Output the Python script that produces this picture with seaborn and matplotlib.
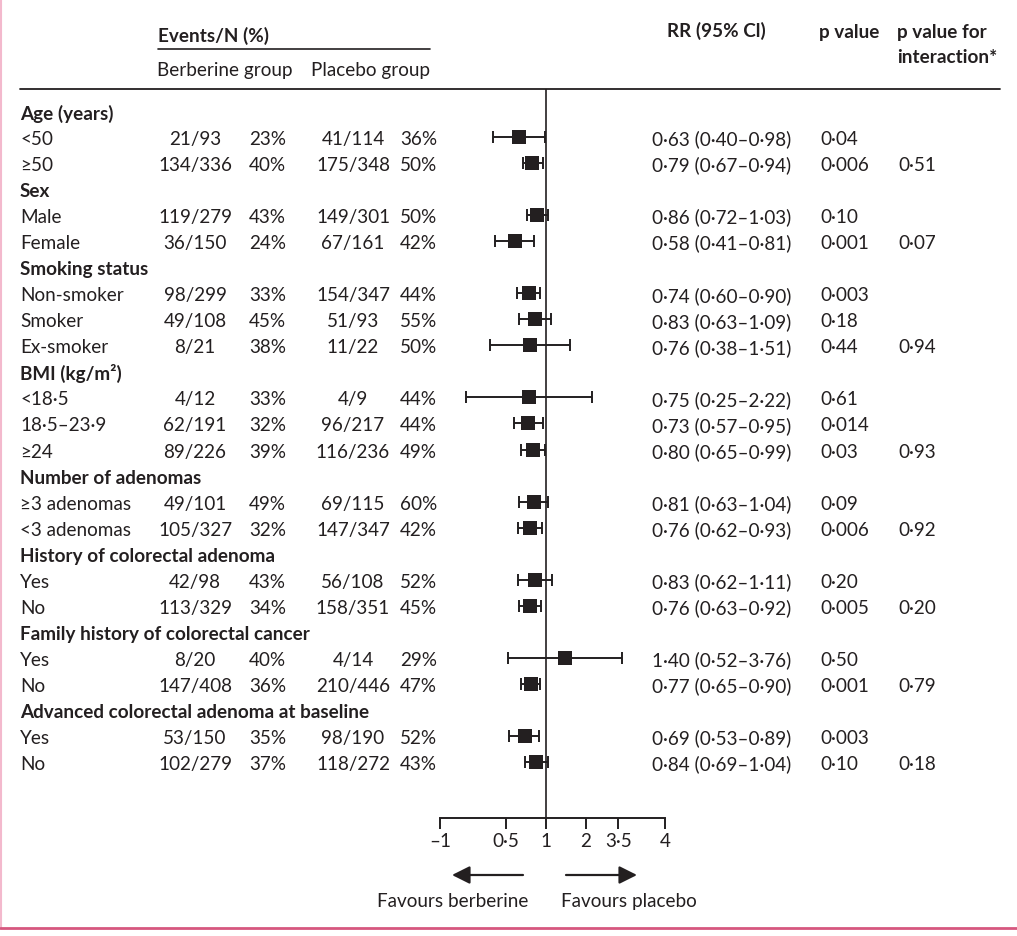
import numpy as np
import pandas as pd
import matplotlib
matplotlib.use("Agg")
import matplotlib.pyplot as plt
import matplotlib.transforms as mtransforms
from matplotlib.ticker import FixedLocator, FixedFormatter, NullLocator
import seaborn as sns

# ---------------- data ----------------
headings = ["Age (years)", "Sex", "Smoking status", "BMI (kg/m²)", "Number of adenomas",
            "History of colorectal adenoma", "Family history of colorectal cancer",
            "Advanced colorectal adenoma at baseline"]
group_sizes = [2, 2, 3, 3, 2, 2, 2, 2]
sub_labels = ["<50", "≥50", "Male", "Female", "Non-smoker", "Smoker", "Ex-smoker",
              "<18·5", "18·5–23·9", "≥24", "≥3 adenomas", "<3 adenomas",
              "Yes", "No", "Yes", "No", "Yes", "No"]
berb_events = [21, 134, 119, 36, 98, 49, 8, 4, 62, 89, 49, 105, 42, 113, 8, 147, 53, 102]
berb_n = [93, 336, 279, 150, 299, 108, 21, 12, 191, 226, 101, 327, 98, 329, 20, 408, 150, 279]
berb_pct = [23, 40, 43, 24, 33, 45, 38, 33, 32, 39, 49, 32, 43, 34, 40, 36, 35, 37]
plac_events = [41, 175, 149, 67, 154, 51, 11, 4, 96, 116, 69, 147, 56, 158, 4, 210, 98, 118]
plac_n = [114, 348, 301, 161, 347, 93, 22, 9, 217, 236, 115, 347, 108, 351, 14, 446, 190, 272]
plac_pct = [36, 50, 50, 42, 44, 55, 50, 44, 44, 49, 60, 42, 52, 45, 29, 47, 52, 43]
rr = [0.63, 0.79, 0.86, 0.58, 0.74, 0.83, 0.76, 0.75, 0.73, 0.80, 0.81, 0.76, 0.83, 0.76, 1.40, 0.77, 0.69, 0.84]
ci_low = [0.40, 0.67, 0.72, 0.41, 0.60, 0.63, 0.38, 0.25, 0.57, 0.65, 0.63, 0.62, 0.62, 0.63, 0.52, 0.65, 0.53, 0.69]
ci_high = [0.98, 0.94, 1.03, 0.81, 0.90, 1.09, 1.51, 2.22, 0.95, 0.99, 1.04, 0.93, 1.11, 0.92, 3.76, 0.90, 0.89, 1.04]
p_value = ["0.04", "0.006", "0.10", "0.001", "0.003", "0.18", "0.44", "0.61", "0.014", "0.03",
           "0.09", "0.006", "0.20", "0.005", "0.50", "0.001", "0.003", "0.10"]
p_interaction = ["", "0.51", "", "0.07", "", "", "0.94", "", "", "0.93", "", "0.92",
                 "", "0.20", "", "0.79", "", "0.18"]
tick_values = [0.159, 0.5, 1, 2, 3.5, 7.86]
tick_labels = ["–1", "0·5", "1", "2", "3·5", "4"]

# ---------------- layout ----------------
W, H = 1017, 936
INK = "#231f20"
sns.set_theme(style="white")
plt.rcParams["font.family"] = ["Lato", "DejaVu Sans"]
plt.rcParams["text.color"] = INK
FS = 13.6

def dot(s):
    return s.replace(".", "·")

# row indices
head_rows, sub_rows = [], []
r = 0
for size in group_sizes:
    head_rows.append(r)
    r += 1
    for _ in range(size):
        sub_rows.append(r)
        r += 1

df = pd.DataFrame({"row": sub_rows, "rr": rr, "lo": ci_low, "hi": ci_high})

fig = plt.figure(figsize=(W / 100, H / 100), dpi=100)
ax_bg = fig.add_axes([0, 0, 1, 1], zorder=0)
ax_bg.set_xlim(0, W)
ax_bg.set_ylim(H, 0)
ax_bg.axis("off")

top_px, bot_px = 89, 818
row0_px, row_step = 111, 26.04
ax = fig.add_axes([440 / W, 1 - bot_px / H, 225 / W, (bot_px - top_px) / H], zorder=1)
ax.patch.set_alpha(0)
ax.set_xscale("log", base=2)
ax.set_xlim(tick_values[0], tick_values[-1])

# forest marks
ax.axvline(1, color=INK, lw=1.2, zorder=1)
ax.errorbar(df["rr"], df["row"], xerr=[df["rr"] - df["lo"], df["hi"] - df["rr"]],
            fmt="none", ecolor=INK, elinewidth=1.4, capsize=4, capthick=1.4, zorder=2)
sns.scatterplot(data=df, x="rr", y="row", marker="s", s=95, color=INK,
                edgecolor=INK, linewidth=0, ax=ax, zorder=3, legend=False)
ax.set_xlabel("")
ax.set_ylabel("")
for s in ["top", "left", "right"]:
    ax.spines[s].set_visible(False)
ax.spines["bottom"].set_color(INK)
ax.spines["bottom"].set_linewidth(1.4)
ax.xaxis.set_major_locator(FixedLocator(tick_values))
ax.xaxis.set_major_formatter(FixedFormatter(tick_labels))
ax.xaxis.set_minor_locator(NullLocator())
ax.set_yticks([])
ax.tick_params(axis="x", direction="out", length=8, width=1.4, color=INK,
               labelsize=FS, labelcolor=INK, pad=3, bottom=True)
ax.set_ylim((bot_px - row0_px) / row_step, (top_px - row0_px) / row_step)

# ---------------- table text ----------------
trans = mtransforms.blended_transform_factory(ax_bg.transData, ax.transData)
VA = "center_baseline"
dy = 1.0 / row_step  # ~1 px downward nudge
for lab, rw in zip(headings, head_rows):
    ax_bg.text(20, rw + dy, lab, transform=trans, fontsize=FS, fontweight="bold", va=VA, ha="left")
for i, rw in enumerate(sub_rows):
    y = rw + dy
    ax_bg.text(20, y, sub_labels[i], transform=trans, fontsize=FS, va=VA, ha="left")
    ax_bg.text(195, y, f"{berb_events[i]}/{berb_n[i]}", transform=trans, fontsize=FS, va=VA, ha="center")
    ax_bg.text(249, y, f"{berb_pct[i]}%", transform=trans, fontsize=FS, va=VA, ha="left")
    ax_bg.text(353, y, f"{plac_events[i]}/{plac_n[i]}", transform=trans, fontsize=FS, va=VA, ha="center")
    ax_bg.text(400, y, f"{plac_pct[i]}%", transform=trans, fontsize=FS, va=VA, ha="left")
    rr_txt = dot(f"{rr[i]:.2f} ({ci_low[i]:.2f}–{ci_high[i]:.2f})")
    ax_bg.text(652, y, rr_txt, transform=trans, fontsize=FS, va=VA, ha="left")
    ax_bg.text(820, y, dot(p_value[i]), transform=trans, fontsize=FS, va=VA, ha="left")
    if p_interaction[i]:
        ax_bg.text(898, y, dot(p_interaction[i]), transform=trans, fontsize=FS, va=VA, ha="left")

# headers
ax_bg.text(158, 34, "Events/N (%)", fontsize=FS, fontweight="bold", va=VA, ha="left")
ax_bg.plot([158, 430], [49, 49], color=INK, lw=1.2)
ax_bg.text(157, 69, "Berberine group", fontsize=FS, va=VA, ha="left")
ax_bg.text(311, 69, "Placebo group", fontsize=FS, va=VA, ha="left")
ax_bg.text(667, 29, "RR (95% Cl)", fontsize=FS, fontweight="bold", va=VA, ha="left")
ax_bg.text(819, 31, "p value", fontsize=FS, fontweight="bold", va=VA, ha="left")
ax_bg.text(897, 31, "p value for", fontsize=FS, fontweight="bold", va=VA, ha="left")
ax_bg.text(897, 56, "interaction*", fontsize=FS, fontweight="bold", va=VA, ha="left")
ax_bg.plot([20, 1000], [89, 89], color=INK, lw=1.3)

# favours arrows
arrow_style = "-|>,head_length=0.6,head_width=0.3"
ax_bg.annotate("", xy=(452, 875), xytext=(523, 875),
               arrowprops=dict(arrowstyle=arrow_style, color=INK, lw=1.6,
                               mutation_scale=18, shrinkA=0, shrinkB=0))
ax_bg.annotate("", xy=(637, 875), xytext=(566, 875),
               arrowprops=dict(arrowstyle=arrow_style, color=INK, lw=1.6,
                               mutation_scale=18, shrinkA=0, shrinkB=0))
ax_bg.text(453, 900, "Favours berberine", fontsize=FS, va=VA, ha="center")
ax_bg.text(629, 900, "Favours placebo", fontsize=FS, va=VA, ha="center")

# page borders
ax_bg.plot([1, 1], [0, 927], color="#f3b9cd", lw=1.5)
ax_bg.plot([0, W], [928, 928], color="#d6577f", lw=2)

fig.savefig("out.png", dpi=100)
